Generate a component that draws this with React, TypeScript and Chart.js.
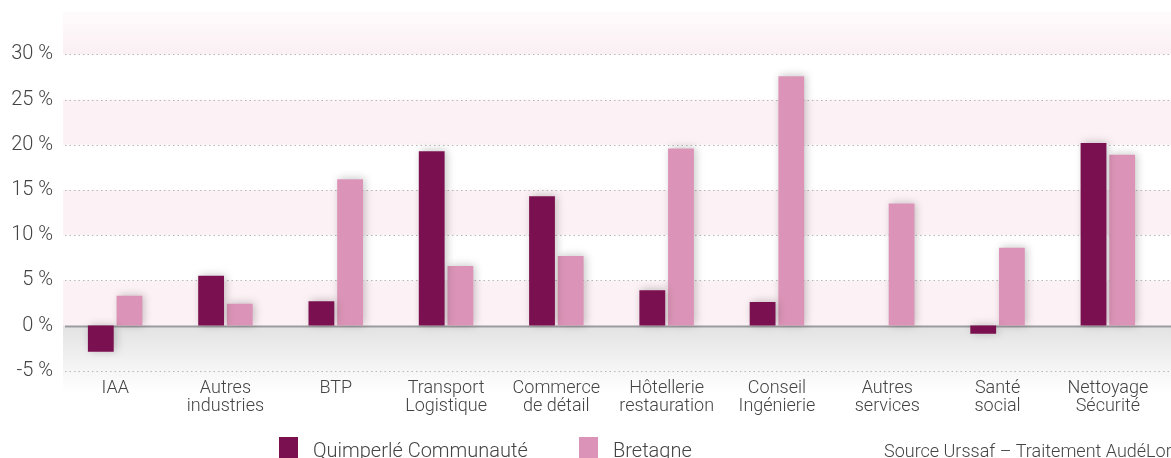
import React, { useEffect, useRef } from "react";
import { Chart, registerables } from "chart.js";

Chart.register(...registerables);

const categories: (string | string[])[] = [
  "IAA",
  ["Autres", "industries"],
  "BTP",
  ["Transport", "Logistique"],
  ["Commerce", "de détail"],
  ["Hôtellerie", "restauration"],
  ["Conseil", "Ingénierie"],
  ["Autres", "services"],
  ["Santé", "social"],
  ["Nettoyage", "Sécurité"],
];
const quimperleValues = [-2.9, 5.5, 2.7, 19.3, 14.3, 3.9, 2.6, 0, -0.9, 20.2];
const bretagneValues = [3.3, 2.4, 16.2, 6.6, 7.7, 19.6, 27.6, 13.5, 8.6, 18.9];
const yTickValues = [-5, 0, 5, 10, 15, 20, 25, 30];
const seriesNames = ["Quimperlé Communauté", "Bretagne"];
const seriesColors = ["#7a104f", "#db94b7"];
const sourceText = "Source Urssaf – Traitement AudéLor";

const FONT = "Roboto";

const bandsPlugin = {
  id: "bands",
  beforeDraw(chart: any) {
    const { ctx, chartArea, scales } = chart;
    const y = scales.y;
    const x0 = chartArea.left + 3;
    const x1 = chart.width;
    ctx.save();
    const y30 = y.getPixelForValue(30);
    let g = ctx.createLinearGradient(0, chartArea.top, 0, y30);
    g.addColorStop(0, "#fefbfc");
    g.addColorStop(1, "#fbf0f4");
    ctx.fillStyle = g;
    ctx.fillRect(x0, chartArea.top, x1 - x0, y30 - chartArea.top);
    ctx.fillStyle = "#fcf1f5";
    [[20, 25], [10, 15], [0, 5]].forEach(([a, b]) => {
      const pa = y.getPixelForValue(a);
      const pb = y.getPixelForValue(b);
      ctx.fillRect(x0, pb, x1 - x0, pa - pb);
    });
    const y0 = y.getPixelForValue(0);
    const yb = y0 + 66;
    g = ctx.createLinearGradient(0, y0, 0, yb);
    g.addColorStop(0, "#e2e2e3");
    g.addColorStop(1, "#ffffff");
    ctx.fillStyle = g;
    ctx.fillRect(x0, y0, x1 - x0, yb - y0);
    ctx.strokeStyle = "#b8b8b8";
    ctx.lineWidth = 1.2;
    ctx.setLineDash([1.5, 3]);
    yTickValues.forEach((v) => {
      if (v === 0) return;
      const p = Math.round(y.getPixelForValue(v)) + 0.5;
      ctx.beginPath();
      ctx.moveTo(x0 + 2, p);
      ctx.lineTo(x1, p);
      ctx.stroke();
    });
    ctx.setLineDash([]);
    ctx.strokeStyle = "#9d9d9f";
    ctx.lineWidth = 2;
    ctx.beginPath();
    ctx.moveTo(x0 + 2, y0 + 1);
    ctx.lineTo(x1, y0 + 1);
    ctx.stroke();
    ctx.restore();
  },
};

const shadowPlugin = {
  id: "barShadow",
  beforeDatasetsDraw(chart: any) {
    const ctx = chart.ctx;
    ctx.save();
    ctx.shadowColor = "rgba(0,0,0,0.22)";
    ctx.shadowBlur = 8;
    ctx.shadowOffsetX = 2;
    ctx.shadowOffsetY = -1;
  },
  afterDatasetsDraw(chart: any) {
    chart.ctx.restore();
  },
};

const legendPlugin = {
  id: "customLegend",
  afterDraw(chart: any) {
    const ctx = chart.ctx;
    ctx.save();
    ctx.font = `300 20px ${FONT}`;
    ctx.textBaseline = "alphabetic";
    ctx.textAlign = "left";
    const boxXs = [279, 579];
    seriesNames.forEach((name, i) => {
      ctx.fillStyle = seriesColors[i];
      ctx.fillRect(boxXs[i], 437, 19, 22);
      ctx.fillStyle = "#444";
      ctx.fillText(name, boxXs[i] + 34, 457);
    });
    ctx.font = `300 18px ${FONT}`;
    ctx.fillStyle = "#444";
    ctx.fillText(sourceText, 884, 457);
    ctx.restore();
  },
};

export default function App() {
  const ref = useRef<HTMLCanvasElement>(null);
  useEffect(() => {
    if (!ref.current) return;
    const chart = new Chart(ref.current, {
      type: "bar",
      data: {
        labels: categories,
        datasets: [
          {
            label: seriesNames[0],
            data: quimperleValues,
            backgroundColor: seriesColors[0],
            categoryPercentage: 0.52,
            barPercentage: 0.9,
          },
          {
            label: seriesNames[1],
            data: bretagneValues,
            backgroundColor: seriesColors[1],
            categoryPercentage: 0.52,
            barPercentage: 0.9,
          },
        ],
      },
      options: {
        animation: false,
        responsive: true,
        maintainAspectRatio: false,
        layout: { padding: { top: 12, right: 8, left: 0, bottom: 0 } },
        plugins: {
          legend: { display: false },
          tooltip: { enabled: false },
        },
        scales: {
          x: {
            grid: { display: false, drawTicks: false },
            border: { display: false },
            ticks: {
              color: "#444",
              font: { family: FONT, size: 18, weight: "300", lineHeight: 1.0 },
              padding: 9,
              maxRotation: 0,
              autoSkip: false,
            },
            afterFit(scale: any) {
              scale.height = 87.3;
              scale.paddingLeft = 0;
              scale.paddingRight = 0;
            },
          },
          y: {
            min: -5,
            max: 34.7,
            grid: { display: false, drawTicks: false },
            border: { display: false },
            ticks: {
              color: "#444",
              font: { family: FONT, size: 20, weight: "300" },
              padding: 7,
              callback: (v: any) => `${v} %`,
            },
            afterBuildTicks(scale: any) {
              scale.ticks = yTickValues.map((v) => ({ value: v }));
            },
            afterFit(scale: any) {
              scale.width = 60;
              scale.paddingTop = 0;
              scale.paddingBottom = 0;
            },
          },
        },
      },
      plugins: [bandsPlugin, shadowPlugin, legendPlugin],
    });
    return () => chart.destroy();
  }, []);
  return (
    <div style={{ position: "fixed", left: 0, top: 0, width: 1171, height: 458, background: "#fff" }}>
      <canvas ref={ref} />
    </div>
  );
}
